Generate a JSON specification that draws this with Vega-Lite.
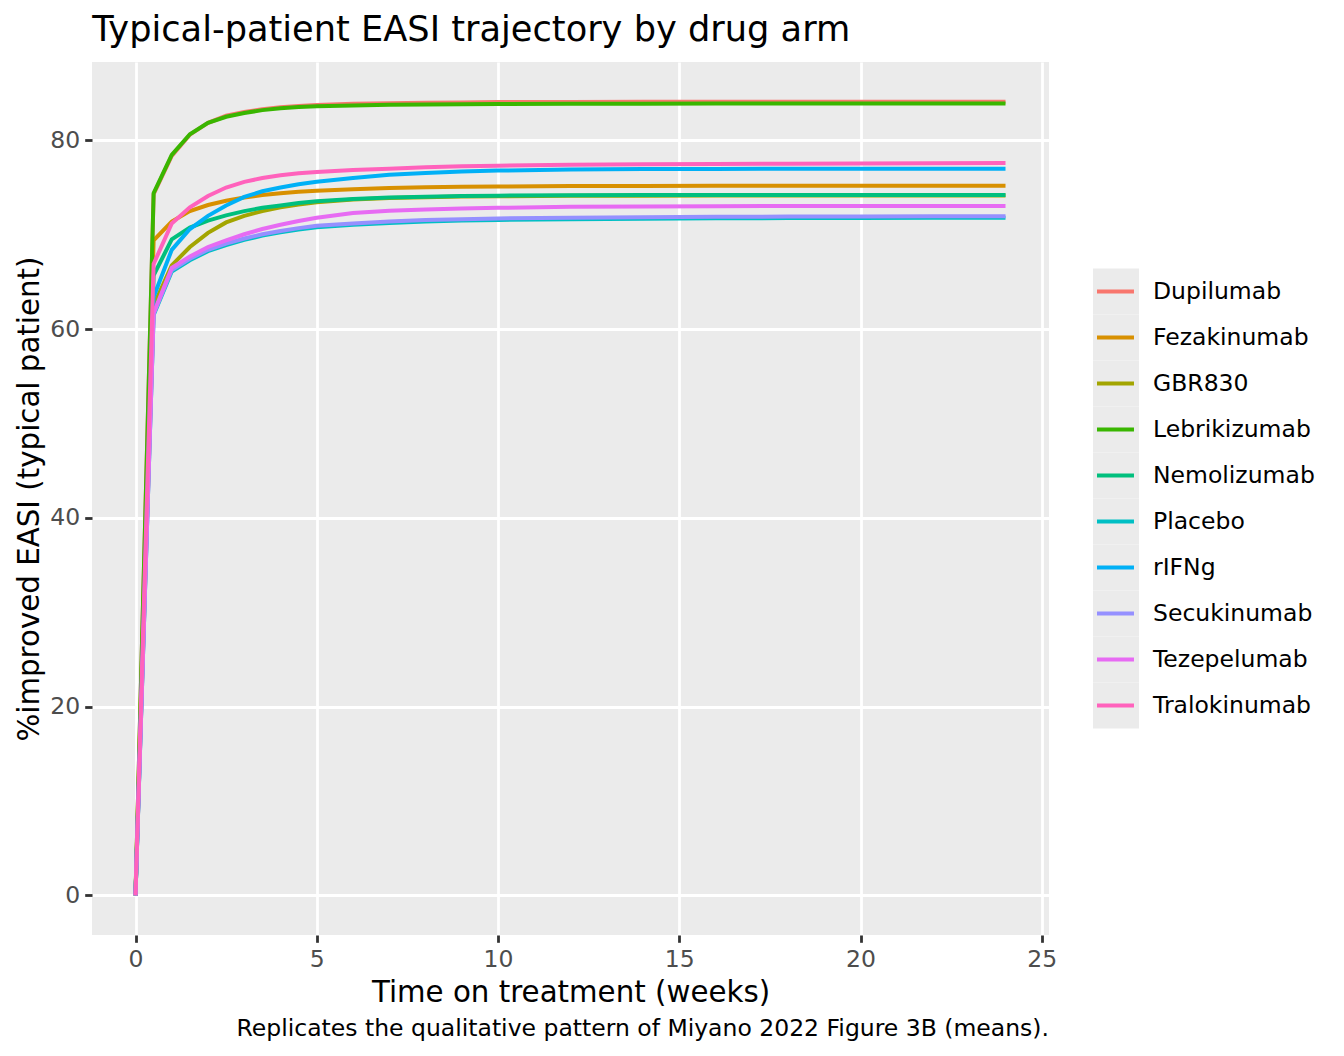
{
  "$schema": "https://vega.github.io/schema/vega-lite/v6.json",
  "background": "white",
  "padding": {"left": 15, "top": 12, "right": 10, "bottom": 10},
  "title": {
    "text": "Typical-patient EASI trajectory by drug arm",
    "anchor": "start",
    "dx": 77,
    "offset": 14,
    "fontSize": 35.2,
    "fontWeight": "normal",
    "color": "black"
  },
  "data": {
    "values": [
      {"drug": "Dupilumab", "week": 0, "easi": 0}, {"drug": "Dupilumab", "week": 0.5, "easi": 74.3}, {"drug": "Dupilumab", "week": 1, "easi": 78.35}, {"drug": "Dupilumab", "week": 1.5, "easi": 80.6}, {"drug": "Dupilumab", "week": 2, "easi": 81.85}, {"drug": "Dupilumab", "week": 2.5, "easi": 82.6}, {"drug": "Dupilumab", "week": 3, "easi": 83.0}, {"drug": "Dupilumab", "week": 3.5, "easi": 83.3}, {"drug": "Dupilumab", "week": 4, "easi": 83.5}, {"drug": "Dupilumab", "week": 4.5, "easi": 83.65}, {"drug": "Dupilumab", "week": 5, "easi": 83.75}, {"drug": "Dupilumab", "week": 6, "easi": 83.87}, {"drug": "Dupilumab", "week": 7, "easi": 83.94}, {"drug": "Dupilumab", "week": 8, "easi": 83.99}, {"drug": "Dupilumab", "week": 9, "easi": 84.02}, {"drug": "Dupilumab", "week": 10, "easi": 84.05}, {"drug": "Dupilumab", "week": 12, "easi": 84.07}, {"drug": "Dupilumab", "week": 14, "easi": 84.08}, {"drug": "Dupilumab", "week": 16, "easi": 84.09}, {"drug": "Dupilumab", "week": 18, "easi": 84.1}, {"drug": "Dupilumab", "week": 20, "easi": 84.1}, {"drug": "Dupilumab", "week": 22, "easi": 84.1}, {"drug": "Dupilumab", "week": 24, "easi": 84.1},
      {"drug": "Fezakinumab", "week": 0, "easi": 0}, {"drug": "Fezakinumab", "week": 0.5, "easi": 69.4}, {"drug": "Fezakinumab", "week": 1, "easi": 71.4}, {"drug": "Fezakinumab", "week": 1.5, "easi": 72.5}, {"drug": "Fezakinumab", "week": 2, "easi": 73.15}, {"drug": "Fezakinumab", "week": 2.5, "easi": 73.6}, {"drug": "Fezakinumab", "week": 3, "easi": 73.95}, {"drug": "Fezakinumab", "week": 3.5, "easi": 74.2}, {"drug": "Fezakinumab", "week": 4, "easi": 74.4}, {"drug": "Fezakinumab", "week": 4.5, "easi": 74.55}, {"drug": "Fezakinumab", "week": 5, "easi": 74.65}, {"drug": "Fezakinumab", "week": 6, "easi": 74.82}, {"drug": "Fezakinumab", "week": 7, "easi": 74.95}, {"drug": "Fezakinumab", "week": 8, "easi": 75.03}, {"drug": "Fezakinumab", "week": 9, "easi": 75.08}, {"drug": "Fezakinumab", "week": 10, "easi": 75.11}, {"drug": "Fezakinumab", "week": 12, "easi": 75.15}, {"drug": "Fezakinumab", "week": 14, "easi": 75.17}, {"drug": "Fezakinumab", "week": 16, "easi": 75.18}, {"drug": "Fezakinumab", "week": 18, "easi": 75.19}, {"drug": "Fezakinumab", "week": 20, "easi": 75.2}, {"drug": "Fezakinumab", "week": 22, "easi": 75.2}, {"drug": "Fezakinumab", "week": 24, "easi": 75.2},
      {"drug": "GBR830", "week": 0, "easi": 0}, {"drug": "GBR830", "week": 0.5, "easi": 62.5}, {"drug": "GBR830", "week": 1, "easi": 66.75}, {"drug": "GBR830", "week": 1.5, "easi": 68.7}, {"drug": "GBR830", "week": 2, "easi": 70.2}, {"drug": "GBR830", "week": 2.5, "easi": 71.3}, {"drug": "GBR830", "week": 3, "easi": 72.0}, {"drug": "GBR830", "week": 3.5, "easi": 72.5}, {"drug": "GBR830", "week": 4, "easi": 72.9}, {"drug": "GBR830", "week": 4.5, "easi": 73.2}, {"drug": "GBR830", "week": 5, "easi": 73.45}, {"drug": "GBR830", "week": 6, "easi": 73.72}, {"drug": "GBR830", "week": 7, "easi": 73.88}, {"drug": "GBR830", "week": 8, "easi": 73.98}, {"drug": "GBR830", "week": 9, "easi": 74.04}, {"drug": "GBR830", "week": 10, "easi": 74.08}, {"drug": "GBR830", "week": 12, "easi": 74.12}, {"drug": "GBR830", "week": 14, "easi": 74.14}, {"drug": "GBR830", "week": 16, "easi": 74.15}, {"drug": "GBR830", "week": 18, "easi": 74.15}, {"drug": "GBR830", "week": 20, "easi": 74.16}, {"drug": "GBR830", "week": 22, "easi": 74.16}, {"drug": "GBR830", "week": 24, "easi": 74.16},
      {"drug": "Lebrikizumab", "week": 0, "easi": 0}, {"drug": "Lebrikizumab", "week": 0.5, "easi": 74.4}, {"drug": "Lebrikizumab", "week": 1, "easi": 78.45}, {"drug": "Lebrikizumab", "week": 1.5, "easi": 80.65}, {"drug": "Lebrikizumab", "week": 2, "easi": 81.85}, {"drug": "Lebrikizumab", "week": 2.5, "easi": 82.5}, {"drug": "Lebrikizumab", "week": 3, "easi": 82.9}, {"drug": "Lebrikizumab", "week": 3.5, "easi": 83.2}, {"drug": "Lebrikizumab", "week": 4, "easi": 83.4}, {"drug": "Lebrikizumab", "week": 4.5, "easi": 83.52}, {"drug": "Lebrikizumab", "week": 5, "easi": 83.6}, {"drug": "Lebrikizumab", "week": 6, "easi": 83.7}, {"drug": "Lebrikizumab", "week": 7, "easi": 83.76}, {"drug": "Lebrikizumab", "week": 8, "easi": 83.8}, {"drug": "Lebrikizumab", "week": 9, "easi": 83.83}, {"drug": "Lebrikizumab", "week": 10, "easi": 83.85}, {"drug": "Lebrikizumab", "week": 12, "easi": 83.87}, {"drug": "Lebrikizumab", "week": 14, "easi": 83.88}, {"drug": "Lebrikizumab", "week": 16, "easi": 83.89}, {"drug": "Lebrikizumab", "week": 18, "easi": 83.9}, {"drug": "Lebrikizumab", "week": 20, "easi": 83.9}, {"drug": "Lebrikizumab", "week": 22, "easi": 83.9}, {"drug": "Lebrikizumab", "week": 24, "easi": 83.9},
      {"drug": "Nemolizumab", "week": 0, "easi": 0}, {"drug": "Nemolizumab", "week": 0.5, "easi": 65.7}, {"drug": "Nemolizumab", "week": 1, "easi": 69.5}, {"drug": "Nemolizumab", "week": 1.5, "easi": 70.75}, {"drug": "Nemolizumab", "week": 2, "easi": 71.5}, {"drug": "Nemolizumab", "week": 2.5, "easi": 72.05}, {"drug": "Nemolizumab", "week": 3, "easi": 72.5}, {"drug": "Nemolizumab", "week": 3.5, "easi": 72.85}, {"drug": "Nemolizumab", "week": 4, "easi": 73.1}, {"drug": "Nemolizumab", "week": 4.5, "easi": 73.35}, {"drug": "Nemolizumab", "week": 5, "easi": 73.55}, {"drug": "Nemolizumab", "week": 6, "easi": 73.78}, {"drug": "Nemolizumab", "week": 7, "easi": 73.93}, {"drug": "Nemolizumab", "week": 8, "easi": 74.03}, {"drug": "Nemolizumab", "week": 9, "easi": 74.1}, {"drug": "Nemolizumab", "week": 10, "easi": 74.14}, {"drug": "Nemolizumab", "week": 12, "easi": 74.18}, {"drug": "Nemolizumab", "week": 14, "easi": 74.2}, {"drug": "Nemolizumab", "week": 16, "easi": 74.21}, {"drug": "Nemolizumab", "week": 18, "easi": 74.22}, {"drug": "Nemolizumab", "week": 20, "easi": 74.22}, {"drug": "Nemolizumab", "week": 22, "easi": 74.22}, {"drug": "Nemolizumab", "week": 24, "easi": 74.22},
      {"drug": "Placebo", "week": 0, "easi": 0}, {"drug": "Placebo", "week": 0.5, "easi": 61.5}, {"drug": "Placebo", "week": 1, "easi": 66.1}, {"drug": "Placebo", "week": 1.5, "easi": 67.3}, {"drug": "Placebo", "week": 2, "easi": 68.25}, {"drug": "Placebo", "week": 2.5, "easi": 68.9}, {"drug": "Placebo", "week": 3, "easi": 69.45}, {"drug": "Placebo", "week": 3.5, "easi": 69.9}, {"drug": "Placebo", "week": 4, "easi": 70.25}, {"drug": "Placebo", "week": 4.5, "easi": 70.55}, {"drug": "Placebo", "week": 5, "easi": 70.8}, {"drug": "Placebo", "week": 6, "easi": 71.05}, {"drug": "Placebo", "week": 7, "easi": 71.25}, {"drug": "Placebo", "week": 8, "easi": 71.4}, {"drug": "Placebo", "week": 9, "easi": 71.5}, {"drug": "Placebo", "week": 10, "easi": 71.57}, {"drug": "Placebo", "week": 12, "easi": 71.65}, {"drug": "Placebo", "week": 14, "easi": 71.7}, {"drug": "Placebo", "week": 16, "easi": 71.74}, {"drug": "Placebo", "week": 18, "easi": 71.76}, {"drug": "Placebo", "week": 20, "easi": 71.78}, {"drug": "Placebo", "week": 22, "easi": 71.79}, {"drug": "Placebo", "week": 24, "easi": 71.8},
      {"drug": "rIFNg", "week": 0, "easi": 0}, {"drug": "rIFNg", "week": 0.5, "easi": 63.4}, {"drug": "rIFNg", "week": 1, "easi": 68.4}, {"drug": "rIFNg", "week": 1.5, "easi": 70.6}, {"drug": "rIFNg", "week": 2, "easi": 72.0}, {"drug": "rIFNg", "week": 2.5, "easi": 73.1}, {"drug": "rIFNg", "week": 3, "easi": 74.0}, {"drug": "rIFNg", "week": 3.5, "easi": 74.6}, {"drug": "rIFNg", "week": 4, "easi": 75.0}, {"drug": "rIFNg", "week": 4.5, "easi": 75.35}, {"drug": "rIFNg", "week": 5, "easi": 75.6}, {"drug": "rIFNg", "week": 6, "easi": 76.0}, {"drug": "rIFNg", "week": 7, "easi": 76.35}, {"drug": "rIFNg", "week": 8, "easi": 76.55}, {"drug": "rIFNg", "week": 9, "easi": 76.7}, {"drug": "rIFNg", "week": 10, "easi": 76.8}, {"drug": "rIFNg", "week": 12, "easi": 76.9}, {"drug": "rIFNg", "week": 14, "easi": 76.95}, {"drug": "rIFNg", "week": 16, "easi": 76.97}, {"drug": "rIFNg", "week": 18, "easi": 76.99}, {"drug": "rIFNg", "week": 20, "easi": 77.0}, {"drug": "rIFNg", "week": 22, "easi": 77.0}, {"drug": "rIFNg", "week": 24, "easi": 77.0},
      {"drug": "Secukinumab", "week": 0, "easi": 0}, {"drug": "Secukinumab", "week": 0.5, "easi": 61.6}, {"drug": "Secukinumab", "week": 1, "easi": 66.25}, {"drug": "Secukinumab", "week": 1.5, "easi": 67.46}, {"drug": "Secukinumab", "week": 2, "easi": 68.4}, {"drug": "Secukinumab", "week": 2.5, "easi": 69.05}, {"drug": "Secukinumab", "week": 3, "easi": 69.6}, {"drug": "Secukinumab", "week": 3.5, "easi": 70.05}, {"drug": "Secukinumab", "week": 4, "easi": 70.4}, {"drug": "Secukinumab", "week": 4.5, "easi": 70.7}, {"drug": "Secukinumab", "week": 5, "easi": 70.95}, {"drug": "Secukinumab", "week": 6, "easi": 71.2}, {"drug": "Secukinumab", "week": 7, "easi": 71.4}, {"drug": "Secukinumab", "week": 8, "easi": 71.55}, {"drug": "Secukinumab", "week": 9, "easi": 71.65}, {"drug": "Secukinumab", "week": 10, "easi": 71.72}, {"drug": "Secukinumab", "week": 12, "easi": 71.8}, {"drug": "Secukinumab", "week": 14, "easi": 71.85}, {"drug": "Secukinumab", "week": 16, "easi": 71.9}, {"drug": "Secukinumab", "week": 18, "easi": 71.92}, {"drug": "Secukinumab", "week": 20, "easi": 71.94}, {"drug": "Secukinumab", "week": 22, "easi": 71.95}, {"drug": "Secukinumab", "week": 24, "easi": 71.95},
      {"drug": "Tezepelumab", "week": 0, "easi": 0}, {"drug": "Tezepelumab", "week": 0.5, "easi": 61.7}, {"drug": "Tezepelumab", "week": 1, "easi": 66.5}, {"drug": "Tezepelumab", "week": 1.5, "easi": 67.7}, {"drug": "Tezepelumab", "week": 2, "easi": 68.7}, {"drug": "Tezepelumab", "week": 2.5, "easi": 69.4}, {"drug": "Tezepelumab", "week": 3, "easi": 70.05}, {"drug": "Tezepelumab", "week": 3.5, "easi": 70.6}, {"drug": "Tezepelumab", "week": 4, "easi": 71.05}, {"drug": "Tezepelumab", "week": 4.5, "easi": 71.45}, {"drug": "Tezepelumab", "week": 5, "easi": 71.8}, {"drug": "Tezepelumab", "week": 6, "easi": 72.3}, {"drug": "Tezepelumab", "week": 7, "easi": 72.55}, {"drug": "Tezepelumab", "week": 8, "easi": 72.68}, {"drug": "Tezepelumab", "week": 9, "easi": 72.78}, {"drug": "Tezepelumab", "week": 10, "easi": 72.85}, {"drug": "Tezepelumab", "week": 12, "easi": 72.95}, {"drug": "Tezepelumab", "week": 14, "easi": 73.0}, {"drug": "Tezepelumab", "week": 16, "easi": 73.02}, {"drug": "Tezepelumab", "week": 18, "easi": 73.04}, {"drug": "Tezepelumab", "week": 20, "easi": 73.05}, {"drug": "Tezepelumab", "week": 22, "easi": 73.05}, {"drug": "Tezepelumab", "week": 24, "easi": 73.05},
      {"drug": "Tralokinumab", "week": 0, "easi": 0}, {"drug": "Tralokinumab", "week": 0.5, "easi": 66.9}, {"drug": "Tralokinumab", "week": 1, "easi": 71.2}, {"drug": "Tralokinumab", "week": 1.5, "easi": 72.9}, {"drug": "Tralokinumab", "week": 2, "easi": 74.1}, {"drug": "Tralokinumab", "week": 2.5, "easi": 75.0}, {"drug": "Tralokinumab", "week": 3, "easi": 75.6}, {"drug": "Tralokinumab", "week": 3.5, "easi": 76.0}, {"drug": "Tralokinumab", "week": 4, "easi": 76.3}, {"drug": "Tralokinumab", "week": 4.5, "easi": 76.5}, {"drug": "Tralokinumab", "week": 5, "easi": 76.65}, {"drug": "Tralokinumab", "week": 6, "easi": 76.85}, {"drug": "Tralokinumab", "week": 7, "easi": 77.0}, {"drug": "Tralokinumab", "week": 8, "easi": 77.15}, {"drug": "Tralokinumab", "week": 9, "easi": 77.25}, {"drug": "Tralokinumab", "week": 10, "easi": 77.32}, {"drug": "Tralokinumab", "week": 12, "easi": 77.4}, {"drug": "Tralokinumab", "week": 14, "easi": 77.47}, {"drug": "Tralokinumab", "week": 16, "easi": 77.5}, {"drug": "Tralokinumab", "week": 18, "easi": 77.53}, {"drug": "Tralokinumab", "week": 20, "easi": 77.55}, {"drug": "Tralokinumab", "week": 22, "easi": 77.57}, {"drug": "Tralokinumab", "week": 24, "easi": 77.6}
    ]
  },
  "spacing": 36,
  "hconcat": [
    {
      "width": 957,
      "height": 873,
      "view": {"fill": "#EBEBEB", "stroke": null},
      "title": {
        "text": "Replicates the qualitative pattern of Miyano 2022 Figure 3B (means).",
        "orient": "bottom",
        "anchor": "end",
        "frame": "group",
        "offset": 9,
        "fontSize": 23.5,
        "fontWeight": "normal",
        "color": "black"
      },
      "layer": [
        {
          "mark": {"type": "line", "strokeWidth": 4},
          "encoding": {
            "x": {
              "field": "week",
              "type": "quantitative",
              "scale": {"domain": [-1.2, 25.2], "nice": false, "zero": false},
              "axis": {
                "values": [0, 5, 10, 15, 20, 25],
                "title": "Time on treatment (weeks)",
                "titlePadding": 8
              }
            },
            "y": {
              "field": "easi",
              "type": "quantitative",
              "scale": {"domain": [-4.2, 88.3], "nice": false, "zero": false},
              "axis": {
                "values": [0, 20, 40, 60, 80],
                "title": "%improved EASI (typical patient)",
                "titlePadding": 5.5
              }
            },
            "color": {
              "field": "drug",
              "type": "nominal",
              "legend": null,
              "scale": {
                "domain": ["Dupilumab", "Fezakinumab", "GBR830", "Lebrikizumab", "Nemolizumab", "Placebo", "rIFNg", "Secukinumab", "Tezepelumab", "Tralokinumab"],
                "range": ["#F8766D", "#D89000", "#A3A500", "#39B600", "#00BF7D", "#00BFC4", "#00B0F6", "#9590FF", "#E76BF3", "#FF62BC"]
              }
            }
          }
        },
        {
          "mark": {"type": "point", "opacity": 0},
          "encoding": {
            "x": {
              "field": "week",
              "type": "quantitative",
              "scale": {"domain": [-1.2, 25.2], "nice": false, "zero": false},
              "axis": {
                "orient": "top",
                "values": [2.5, 7.5, 12.5, 17.5, 22.5],
                "gridWidth": 1.4,
                "labels": false,
                "ticks": false,
                "title": null,
                "minExtent": 0,
                "maxExtent": 0
              }
            },
            "y": {
              "field": "easi",
              "type": "quantitative",
              "scale": {"domain": [-4.2, 88.3], "nice": false, "zero": false},
              "axis": {
                "orient": "right",
                "values": [10, 30, 50, 70],
                "gridWidth": 1.4,
                "labels": false,
                "ticks": false,
                "title": null,
                "minExtent": 0,
                "maxExtent": 0
              }
            }
          }
        }
      ],
      "resolve": {"axis": {"x": "independent", "y": "independent"}}
    },
    {
      "width": 46,
      "height": 873,
      "view": {"stroke": null},
      "transform": [{"filter": "datum.week === 0"}],
      "encoding": {
        "y": {
          "field": "drug",
          "type": "nominal",
          "scale": {
            "type": "band",
            "domain": ["Dupilumab", "Fezakinumab", "GBR830", "Lebrikizumab", "Nemolizumab", "Placebo", "rIFNg", "Secukinumab", "Tezepelumab", "Tralokinumab"],
            "range": [206.5, 666.5],
            "paddingInner": 0,
            "paddingOuter": 0
          },
          "axis": null
        }
      },
      "layer": [
        {
          "mark": {"type": "rect", "color": "#EBEBEB"},
          "encoding": {
            "x": {"datum": 0, "type": "quantitative", "scale": {"domain": [0, 1]}, "axis": null},
            "x2": {"datum": 1}
          }
        },
        {
          "mark": {"type": "rule", "strokeWidth": 4},
          "encoding": {
            "x": {"datum": 0.087, "type": "quantitative", "scale": {"domain": [0, 1]}, "axis": null},
            "x2": {"datum": 0.891},
            "color": {
              "field": "drug",
              "type": "nominal",
              "legend": null,
              "scale": {
                "domain": ["Dupilumab", "Fezakinumab", "GBR830", "Lebrikizumab", "Nemolizumab", "Placebo", "rIFNg", "Secukinumab", "Tezepelumab", "Tralokinumab"],
                "range": ["#F8766D", "#D89000", "#A3A500", "#39B600", "#00BF7D", "#00BFC4", "#00B0F6", "#9590FF", "#E76BF3", "#FF62BC"]
              }
            }
          }
        },
        {
          "mark": {"type": "text", "align": "left", "baseline": "middle", "dx": 14, "fontSize": 23.5, "color": "black"},
          "encoding": {
            "x": {"datum": 1, "type": "quantitative", "scale": {"domain": [0, 1]}, "axis": null},
            "text": {"field": "drug"}
          }
        }
      ]
    }
  ],
  "config": {
    "font": "DejaVu Sans",
    "view": {"stroke": null},
    "axis": {
      "domain": false,
      "grid": true,
      "gridColor": "white",
      "gridWidth": 2.8,
      "tickColor": "#333333",
      "tickWidth": 2.8,
      "tickSize": 7.3,
      "labelFontSize": 23.5,
      "labelColor": "#4D4D4D",
      "labelPadding": 5,
      "titleFontSize": 29.3,
      "titleFontWeight": "normal",
      "titleColor": "black"
    },
    "text": {"font": "DejaVu Sans"},
    "title": {"font": "DejaVu Sans"}
  }
}
